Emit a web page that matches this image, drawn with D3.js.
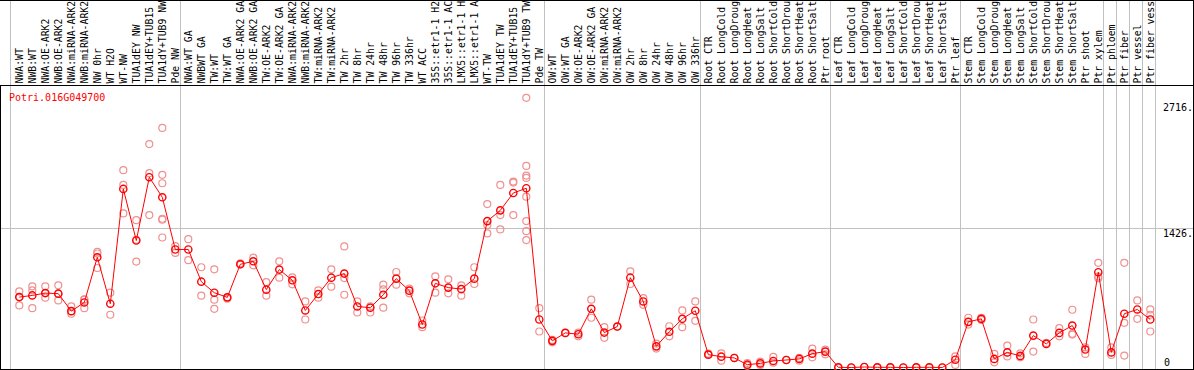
<!DOCTYPE html>
<html>
<head>
<meta charset="utf-8">
<script src="https://cdn.jsdelivr.net/npm/d3@7"></script>
<style>
  html, body { margin: 0; padding: 0; background: #fff; }
  svg { display: block; }
  text { font-family: "DejaVu Sans Mono", "Liberation Mono", monospace; font-size: 10px; }
  .lab { font-size: 9.8px; }
</style>
</head>
<body>
<svg id="chart" width="1194" height="370"></svg>
<script>
const title = "Potri.016G049700";

const categories = [
  "NWA:WT","NWB:WT","NWA:OE-ARK2","NWB:OE-ARK2","NWA:miRNA-ARK2","NWB:miRNA-ARK2","NW 0hr","WT H2O","WT-NW","TUA1dEY NW","TUA1dEY+TUB15 NW","TUA1dY+TUB9 NW","Pde NW",
  "NWA:WT GA","NWBWT GA","TW:WT","TW:WT GA","NWA:OE-ARK2 GA","NWB:OE-ARK2 GA","TW:OE-ARK2","TW:OE-ARK2 GA","NWA:miRNA-ARK2","NWB:miRNA-ARK2","TW:miRNA-ARK2","TW:miRNA-ARK2","TW 2hr","TW 8hr","TW 24hr","TW 48hr","TW 96hr","TW 336hr","WT ACC","35S::etr1-1 H2O","35S::etr1-1 ACC","LMX5::etr1-1 H2O","LMX5::etr1-1 ACC","WT-TW","TUA1dEY TW","TUA1dEY+TUB15 TW","TUA1dY+TUB9 TW","Pde TW",
  "OW:WT","OW:WT GA","OW:OE-ARK2","OW:OE-ARK2 GA","OW:miRNA-ARK2","OW:miRNA-ARK2","OW 2hr","OW 8hr","OW 24hr","OW 48hr","OW 96hr","OW 336hr",
  "Root CTR","Root LongCold","Root LongDrought","Root LongHeat","Root LongSalt","Root ShortCold","Root ShortDrought","Root ShortHeat","Root ShortSalt","Ptr root",
  "Leaf CTR","Leaf LongCold","Leaf LongDrought","Leaf LongHeat","Leaf LongSalt","Leaf ShortCold","Leaf ShortDrought","Leaf ShortHeat","Leaf ShortSalt","Ptr leaf",
  "Stem CTR","Stem LongCold","Stem LongDrought","Stem LongHeat","Stem LongSalt","Stem ShortCold","Stem ShortDrought","Stem ShortHeat","Stem ShortSalt","Ptr shoot","Ptr xylem",
  "Ptr phloem","Ptr fiber","Ptr vessel","Ptr fiber vessel"
];

// index of the first category of each group
const groupStarts = [0, 13, 41, 53, 63, 73, 84, 85, 86, 87];

const means = [
  722, 739, 763, 757, 578, 667, 1130, 654, 1831, 1302, 1951, 1745, 1210,
  1210, 880, 767, 719, 1058, 1089, 798, 1004, 894, 585, 753, 921, 963, 626, 613, 746, 911, 788, 441, 863, 819, 804, 911, 1501, 1611, 1789, 1838, 492,
  273, 355, 341, 602, 358, 420, 921, 677, 217, 366, 499, 582,
  132, 111, 98, 29, 42, 67, 77, 88, 142, 163,
  2, 0, 5, 2, 2, 0, 2, 2, 0, 80,
  468, 499, 88, 155, 119, 327, 242, 355, 430, 184, 977,
  155, 551, 595, 492
];

const replicates = [
  [780, 722, 636], [832, 791, 608], [832, 763, 716], [843, 757, 688], [626, 578, 551], [695, 608, 698],
  [1185, 1169, 1020], [767, 541], [2023, 1872, 1580], [1511, 1310, 1086], [2291, 1992, 1563],
  [2456, 1975, 1889, 1525, 1515, 1333], [1244, 1175],
  [1316, 1100], [1028, 736], [1007, 695, 602], [705, 719], [1058, 1069], [1127, 1048], [876, 736],
  [1089, 921], [925, 853], [677, 492], [791, 716], [1007, 829], [1241, 917, 746], [677, 564],
  [564, 626], [849, 801, 613], [979, 849], [808, 760], [482, 413], [935, 767], [904, 760],
  [843, 736], [1028, 856], [1676, 1460, 1375], [1872, 1563, 1416], [1906, 1896, 1563],
  [2765, 2067, 1968, 1944, 1751, 1501, 1398, 1306], [608, 369],
  [258, 283], [355], [320, 358], [695, 510], [413, 304], [420], [986, 856], [711, 643], [245, 194],
  [423, 320], [585, 413], [677, 479],
  [132, 142], [145, 70], [98], [46, 19], [26, 60], [108, 49], [77], [98, 70], [194, 104], [183, 135],
  [2], [0], [5], [2], [2], [0], [2], [2], [0], [114, 26],
  [510, 440], [510, 487], [139, 53], [225, 114], [145, 104], [492, 163], [252], [403, 320],
  [592, 346, 338], [207, 139], [1073, 932, 915],
  [207, 129], [1073, 458, 122], [688, 499], [595, 541, 369]
];

const yTicks = [1426];
const yLabels = ["2716.", "1426.", "0"];
const yLabelValues = [2716, 1426, 0];
const labelMaxChars = 14;

const W = 1194, H = 370;
const plotTop = 85.5, plotBottom = 369.5, plotLeft = 0.5, plotRight = 1193.5;

const svg = d3.select("#chart");

const x = d3.scaleLinear().domain([0, categories.length - 1]).range([19.3, 1150.3]);
const y = d3.scaleLinear().domain([0, 2716]).range([367.5, 102.6]);

// vertical group gridlines (full height)
const vLines = groupStarts.map((g, k) => k === 0 ? x(g) - 9 : x(g) - 8)
  .concat([x(categories.length - 1) + 5]);
svg.append("g").selectAll("line").data(vLines).join("line")
  .attr("x1", d => Math.floor(d) + 0.5).attr("x2", d => Math.floor(d) + 0.5)
  .attr("y1", 0).attr("y2", plotBottom)
  .attr("stroke", "#c0c0c0").attr("stroke-width", 1);

// horizontal gridline
svg.append("g").selectAll("line").data(yTicks).join("line")
  .attr("x1", plotLeft).attr("x2", plotRight)
  .attr("y1", d => Math.round(y(d)) + 0.5).attr("y2", d => Math.round(y(d)) + 0.5)
  .attr("stroke", "#c0c0c0").attr("stroke-width", 1);

// category labels (rotated, shown to the length visible in the header band)
svg.append("g")
  .selectAll("text").data(categories).join("text")
  .attr("class", "lab")
  .attr("transform", (d, i) => `translate(${x(i) + 4},83.5) rotate(-90)`)
  .attr("text-anchor", "start")
  .attr("fill", "#000")
  .text(d => d.slice(0, labelMaxChars).trimEnd());

// frame lines
const frame = svg.append("g").attr("stroke", "#000").attr("stroke-width", 1).attr("fill", "none");
frame.append("line").attr("x1", 0).attr("x2", W).attr("y1", 0.5).attr("y2", 0.5);
frame.append("line").attr("x1", 0).attr("x2", W).attr("y1", plotTop).attr("y2", plotTop);
frame.append("line").attr("x1", 0).attr("x2", W).attr("y1", plotBottom).attr("y2", plotBottom);
frame.append("line").attr("x1", plotLeft).attr("x2", plotLeft).attr("y1", plotTop).attr("y2", plotBottom);
frame.append("line").attr("x1", plotRight).attr("x2", plotRight).attr("y1", 0).attr("y2", H);

// replicate points
const reps = [];
replicates.forEach((arr, i) => arr.forEach(v => reps.push({i, v})));
svg.append("g").selectAll("circle").data(reps).join("circle")
  .attr("cx", d => x(d.i)).attr("cy", d => y(d.v)).attr("r", 3.5)
  .attr("fill", "none").attr("stroke", "#f09090").attr("stroke-width", 1.2);

// mean line
svg.append("path").datum(means)
  .attr("d", d3.line().x((d, i) => x(i)).y(d => y(d)))
  .attr("fill", "none").attr("stroke", "#ff0000").attr("stroke-width", 1);

// mean points
svg.append("g").selectAll("circle").data(means).join("circle")
  .attr("cx", (d, i) => x(i)).attr("cy", d => y(d)).attr("r", 3.6)
  .attr("fill", "none").attr("stroke", "#ff0000").attr("stroke-width", 1.4);

// title
svg.append("text").attr("x", 9).attr("y", 101).attr("fill", "#ff0000").text(title);

// y labels on the right
svg.append("g").selectAll("text").data(yLabelValues).join("text")
  .attr("x", (d, i) => i === 2 ? 1164 : 1163)
  .attr("y", d => d === 0 ? 366 : y(d) + 8.5)
  .attr("fill", "#000")
  .text((d, i) => yLabels[i]);
</script>
</body>
</html>
